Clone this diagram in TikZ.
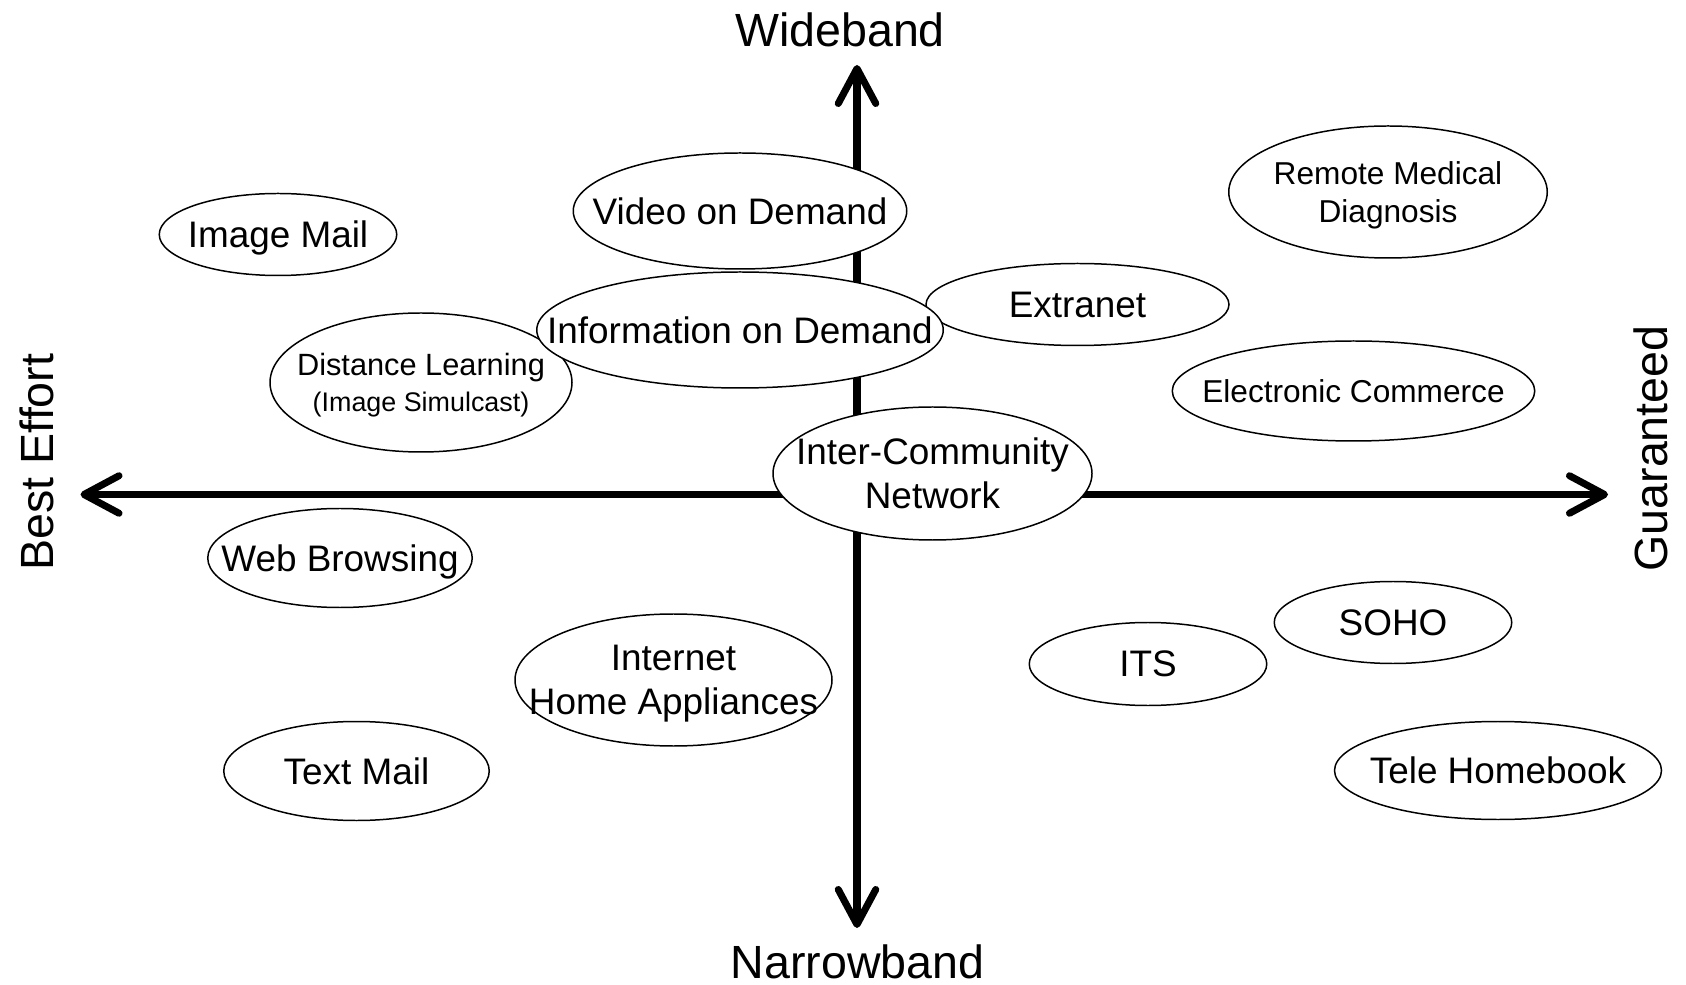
\documentclass[tikz,border=0pt]{standalone}
\usepackage{fontspec}
\setmainfont{Liberation Sans}
\usetikzlibrary{arrows.meta, shapes.geometric, positioning}
\newcommand{\appfont}{\fontsize{21}{25}\selectfont}
\newcommand{\appsmall}{\fontsize{18}{21.5}\selectfont}
\newcommand{\apptiny}{\fontsize{15.3}{18}\selectfont}
\newcommand{\axisfont}{\fontsize{26.5}{30}\selectfont}

\begin{document}
\begin{tikzpicture}[app/.style={ellipse, draw, fill=white, line width=0.85pt, inner sep=0pt},
  apptxt/.style={font=\appfont, align=center, text depth=0pt},
  axis/.style={line width=4pt, {Straight Barb[length=0.7cm, width=0.75cm, round]}-{Straight Barb[length=0.7cm, width=0.75cm, round]}},
  axislabel/.style={font=\axisfont, inner sep=0pt}]
\useasboundingbox (0,0) rectangle (33.72,19.68);
\coordinate (BE) at (1.61,9.79);
\coordinate (GU) at (32.16,9.79);
\coordinate (WB) at (17.14,18.38);
\coordinate (NB) at (17.14,1.12);
\draw[axis] (BE) -- (GU);
\draw[axis] (NB) -- (WB);

\node[axislabel, anchor=base]            (wide)   at (16.80,18.75) {Wideband};
\node[axislabel, anchor=base]            (narrow) at (17.15,0.12)  {Narrowband};
\node[axislabel, anchor=base, rotate=90] (best)   at (1.06,10.44)  {Best Effort};
\node[axislabel, anchor=base, rotate=90] (guar)   at (33.34,10.71) {Guaranteed};

\node[app, minimum width=4.75cm, minimum height=1.64cm, label={[apptxt]center:Image Mail}] (imail) at (5.56,14.99) {};
\node[app, minimum width=6.67cm, minimum height=2.32cm, label={[apptxt]center:Video on Demand}] (vod) at (14.80,15.46) {};
\node[app, minimum width=6.37cm, minimum height=2.64cm, label={[apptxt, font=\appsmall]center:Remote Medical\\Diagnosis}] (rmd) at (27.76,15.84) {};
\node[app, minimum width=6.06cm, minimum height=1.64cm, label={[apptxt]center:Extranet}] (extra) at (21.55,13.59) {};
\node[app, minimum width=6.04cm, minimum height=2.78cm, label={[apptxt, font=\fontsize{17.5}{20.5}\selectfont]center:Distance Learning\\\apptiny (Image Simulcast)}] (dist) at (8.42,12.03) {};
\node[app, minimum width=8.13cm, minimum height=2.32cm, label={[apptxt]center:Information on Demand}] (iod) at (14.80,13.08) {};
\node[app, minimum width=7.25cm, minimum height=2.00cm, label={[apptxt, font=\appsmall]center:Electronic Commerce}] (ecom) at (27.07,11.86) {};
\node[app, minimum width=6.38cm, minimum height=2.66cm, label={[apptxt]center:Inter-Community\\Network}] (icn) at (18.65,10.21) {};
\node[app, minimum width=5.29cm, minimum height=1.98cm, label={[apptxt]center:Web Browsing}] (web) at (6.80,8.52) {};
\node[app, minimum width=4.75cm, minimum height=1.64cm, label={[apptxt]center:SOHO}] (soho) at (27.86,7.23) {};
\node[app, minimum width=4.75cm, minimum height=1.66cm, label={[apptxt]center:ITS}] (its) at (22.96,6.40) {};
\node[app, minimum width=6.34cm, minimum height=2.64cm, label={[apptxt]center:Internet\\Home Appliances}] (iha) at (13.47,6.08) {};
\node[app, minimum width=5.31cm, minimum height=1.98cm, label={[apptxt]center:Text Mail}] (tmail) at (7.13,4.26) {};
\node[app, minimum width=6.54cm, minimum height=1.96cm, label={[apptxt]center:Tele Homebook}] (tele) at (29.96,4.27) {};
\end{tikzpicture}
\end{document}
